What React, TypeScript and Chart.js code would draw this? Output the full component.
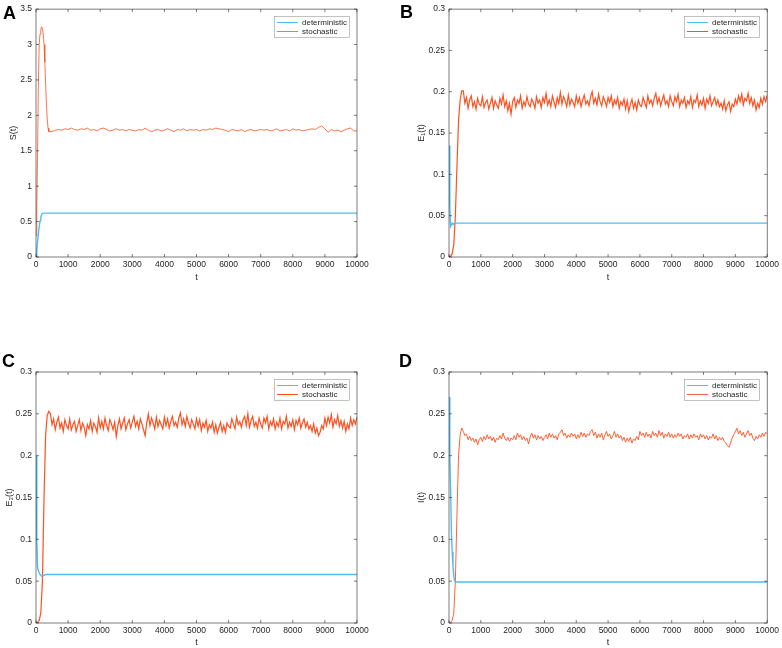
import { useEffect, useRef } from 'react'
import { Chart, registerables, Plugin } from 'chart.js'

Chart.register(...registerables)

// ---- data ----

// shared sampling grid for the B/C/D stochastic paths: 0..10000 every 50
const T_STEP = 50
const tGrid = Array.from({ length: 201 }, (_, i) => i * T_STEP)

// panel A stochastic path: fine start, then every 100
const tTransA = [0, 25, 50, 75, 100, 125, 150, 175, 200, 225, 250, 275, 300, 325, 350, 375, 400]
const tTailA = Array.from({ length: 96 }, (_, i) => 500 + i * 100)
const tA = [...tTransA, ...tTailA]

// deterministic solutions settle quickly, then stay flat
const tDet = [0, 25, 50, 75, 100, 125, 150, 175, 200, 250, 300, 10000]

const detA = [0, 0.1, 0.22, 0.33, 0.43, 0.51, 0.56, 0.6, 0.615, 0.62, 0.62, 0.62]
const detB = [0.135, 0.06, 0.037, 0.039, 0.041, 0.04, 0.04, 0.041, 0.041, 0.041, 0.041, 0.041]
const detC = [0.2, 0.1, 0.066, 0.062, 0.06, 0.058, 0.057, 0.056, 0.056, 0.057, 0.058, 0.058]
const detD = [0.27, 0.2, 0.16, 0.11, 0.085, 0.068, 0.057, 0.051, 0.049, 0.049, 0.049, 0.049]

const stoA = [
  0.3, 0.7, 1.5, 2.5, 3.0, 3.15, 3.22, 3.25, 3.22, 3.15, 3.0, 2.75, 2.45, 2.15, 1.95, 1.82, 1.77,
  1.77, 1.79, 1.8, 1.79, 1.81, 1.8,
  1.82, 1.8, 1.79, 1.81, 1.8, 1.82, 1.79, 1.8, 1.78, 1.81,
  1.82, 1.8, 1.78, 1.79, 1.81, 1.79, 1.8, 1.78, 1.8, 1.79,
  1.78, 1.8, 1.79, 1.82, 1.79, 1.77, 1.79, 1.8, 1.78, 1.79,
  1.81, 1.79, 1.77, 1.8, 1.79, 1.81, 1.78, 1.8, 1.79, 1.8,
  1.78, 1.8, 1.79, 1.81, 1.8, 1.82, 1.81, 1.8, 1.79, 1.77,
  1.8, 1.79, 1.78, 1.8, 1.77, 1.79, 1.8, 1.78, 1.79, 1.8,
  1.79, 1.8, 1.78, 1.79, 1.81, 1.78, 1.79, 1.8, 1.78, 1.81,
  1.79, 1.8, 1.78, 1.79, 1.8, 1.81, 1.8, 1.83, 1.85, 1.81,
  1.76, 1.8, 1.78, 1.79, 1.77, 1.79, 1.81, 1.82, 1.78, 1.78,
]

const stoB = [
  0, 0.001, 0.004, 0.015, 0.05, 0.11, 0.165, 0.19, 0.201,
  0.201, 0.186, 0.193, 0.18, 0.19, 0.195, 0.182, 0.188, 0.179, 0.192, 0.185, 0.183,
  0.194, 0.181, 0.187, 0.19, 0.179, 0.186, 0.193, 0.18, 0.189, 0.184,
  0.18, 0.192, 0.185, 0.196, 0.182, 0.189, 0.177, 0.186, 0.173, 0.188,
  0.193, 0.181, 0.19, 0.186, 0.195, 0.18, 0.188, 0.183, 0.194, 0.185,
  0.182, 0.191, 0.187, 0.18, 0.194, 0.186, 0.19, 0.181, 0.193, 0.187,
  0.198, 0.184, 0.19, 0.182, 0.195, 0.188, 0.181, 0.193, 0.186, 0.199,
  0.185, 0.194, 0.189, 0.182, 0.196, 0.184, 0.191, 0.187, 0.182, 0.195,
  0.186, 0.193, 0.182, 0.19, 0.196, 0.185, 0.189, 0.183, 0.194, 0.2,
  0.186, 0.192, 0.184, 0.197, 0.188, 0.183, 0.194, 0.189, 0.182, 0.193,
  0.187, 0.195, 0.182, 0.19, 0.185, 0.193, 0.18, 0.188, 0.184, 0.191,
  0.179, 0.189, 0.176, 0.185, 0.191, 0.18, 0.187, 0.178, 0.19, 0.184,
  0.182, 0.193, 0.187, 0.181, 0.195, 0.186, 0.19, 0.183, 0.192, 0.198,
  0.186, 0.193, 0.183, 0.19, 0.196, 0.185, 0.189, 0.182, 0.195, 0.188,
  0.183, 0.194, 0.188, 0.197, 0.182, 0.19, 0.186, 0.193, 0.181, 0.189,
  0.185, 0.194, 0.181, 0.19, 0.187, 0.196, 0.182, 0.189, 0.184, 0.192,
  0.18, 0.191, 0.186, 0.195, 0.183, 0.188, 0.193, 0.184, 0.19, 0.182,
  0.186, 0.179, 0.189, 0.177, 0.184, 0.188, 0.176, 0.185, 0.182, 0.191,
  0.185, 0.195, 0.188, 0.197, 0.184, 0.192, 0.189, 0.198, 0.186, 0.193,
  0.183, 0.19, 0.178, 0.186, 0.181, 0.192, 0.185, 0.194, 0.188, 0.196,
]

const stoC = [
  0, 0.001, 0.003, 0.012, 0.05, 0.15, 0.225, 0.248, 0.253,
  0.25, 0.237, 0.244, 0.231, 0.24, 0.246, 0.233, 0.239, 0.229, 0.243, 0.236, 0.232,
  0.244, 0.231, 0.237, 0.241, 0.229, 0.236, 0.243, 0.23, 0.239, 0.234,
  0.224, 0.237, 0.232, 0.242, 0.229, 0.239, 0.235, 0.228, 0.245, 0.233,
  0.241, 0.232, 0.245, 0.236, 0.23, 0.243, 0.238, 0.231, 0.24, 0.223,
  0.236, 0.244, 0.232, 0.239, 0.245, 0.231, 0.238, 0.243, 0.233, 0.24,
  0.247, 0.235, 0.241, 0.232, 0.244, 0.238, 0.231, 0.224, 0.239, 0.25,
  0.236, 0.245, 0.239, 0.232, 0.246, 0.235, 0.242, 0.237, 0.232, 0.246,
  0.236, 0.244, 0.233, 0.241, 0.247, 0.236, 0.24, 0.234, 0.245, 0.251,
  0.237, 0.244, 0.235, 0.247, 0.239, 0.233, 0.243, 0.238, 0.232, 0.244,
  0.235, 0.243, 0.23, 0.239, 0.234, 0.242, 0.229, 0.237, 0.233, 0.24,
  0.228, 0.237, 0.227, 0.234, 0.24, 0.229, 0.236, 0.228, 0.239, 0.235,
  0.233, 0.244, 0.238, 0.232, 0.246, 0.237, 0.241, 0.234, 0.243, 0.247,
  0.236, 0.25, 0.234, 0.242, 0.247, 0.235, 0.24, 0.233, 0.245, 0.238,
  0.233, 0.245, 0.239, 0.247, 0.232, 0.241, 0.236, 0.244, 0.232, 0.24,
  0.235, 0.245, 0.232, 0.241, 0.238, 0.247, 0.233, 0.24, 0.235, 0.243,
  0.231, 0.242, 0.237, 0.245, 0.233, 0.239, 0.244, 0.234, 0.24, 0.232,
  0.236, 0.229, 0.238, 0.227, 0.233, 0.224, 0.228, 0.236, 0.232, 0.245,
  0.236, 0.246, 0.239, 0.249, 0.234, 0.243, 0.238, 0.248, 0.235, 0.242,
  0.233, 0.241, 0.229, 0.238, 0.232, 0.245, 0.236, 0.243, 0.238, 0.246,
]

const stoD = [
  0, 0.0005, 0.003, 0.012, 0.05, 0.13, 0.2, 0.225, 0.233,
  0.229, 0.224, 0.226, 0.219, 0.223, 0.218, 0.221, 0.216, 0.22, 0.213, 0.219, 0.222,
  0.217, 0.223, 0.219, 0.225, 0.22, 0.223, 0.218, 0.222, 0.216, 0.221,
  0.219, 0.224, 0.22, 0.227, 0.221, 0.218, 0.222, 0.217, 0.221, 0.219,
  0.224, 0.219, 0.227, 0.222, 0.225, 0.219, 0.223, 0.218, 0.221, 0.214,
  0.222, 0.227, 0.221, 0.225, 0.219, 0.224, 0.22, 0.223, 0.218, 0.222,
  0.225, 0.22, 0.227, 0.222, 0.226, 0.221, 0.224, 0.219, 0.226, 0.228,
  0.231, 0.224, 0.227, 0.221, 0.225, 0.222, 0.227, 0.223, 0.226, 0.22,
  0.225, 0.221, 0.228, 0.223, 0.227, 0.222, 0.226, 0.224, 0.229, 0.231,
  0.224, 0.228, 0.221, 0.226, 0.222, 0.227, 0.219, 0.225, 0.229, 0.223,
  0.226, 0.22, 0.224, 0.229, 0.222, 0.226, 0.221, 0.224, 0.218, 0.222,
  0.216, 0.221, 0.217, 0.222, 0.215, 0.22, 0.218, 0.223, 0.219, 0.229,
  0.224, 0.227, 0.222, 0.228, 0.223, 0.226, 0.221, 0.229, 0.224, 0.227,
  0.222, 0.23, 0.224, 0.228, 0.221, 0.226, 0.223, 0.228, 0.222, 0.226,
  0.221, 0.225, 0.222, 0.227, 0.223, 0.226, 0.22, 0.224, 0.222, 0.226,
  0.22, 0.225, 0.221, 0.226, 0.222, 0.224, 0.219, 0.226, 0.222, 0.225,
  0.22, 0.224, 0.219, 0.223, 0.221, 0.226, 0.22, 0.224, 0.218, 0.222,
  0.219, 0.222, 0.217, 0.215, 0.212, 0.21, 0.215, 0.221, 0.225, 0.229,
  0.233, 0.226, 0.23, 0.224, 0.228, 0.222, 0.226, 0.23, 0.224, 0.227,
  0.221, 0.218, 0.223, 0.22, 0.225, 0.222, 0.227, 0.223, 0.228, 0.226,
]

const xTicks = [0, 1000, 2000, 3000, 4000, 5000, 6000, 7000, 8000, 9000, 10000]
const yTicksS = [0, 0.5, 1, 1.5, 2, 2.5, 3, 3.5]
const yTicksE = [0, 0.05, 0.1, 0.15, 0.2, 0.25, 0.3]

const seriesNames = ['deterministic', 'stochastic']

// ---- styling ----

const FONT = '"Liberation Sans", Arial, Helvetica, sans-serif'
const TEXT = '#262626'
const BLUE = '#4DBEEE'
const ORANGE = '#FF5020'
const PANEL_W = 391
const PANEL_H = 324

const pts = (xs: number[], ys: number[]) => xs.map((x, i) => ({ x, y: ys[i] }))

interface PanelSpec {
  letter: string
  left: number
  top: number
  yTitle: string
  yTicks: number[]
  tDet: number[]
  det: number[]
  tSto: number[]
  sto: number[]
  stoWidth: number
  pad: { left: number; right: number; top: number; bottom: number }
  yW: number
  xH: number
  letterX: number
  letterY: number
}

const PANELS: PanelSpec[] = [
  { letter: 'A', left: 0, top: 0, yTitle: 'S(t)', yTicks: yTicksS, tDet, det: detA, tSto: tA, sto: stoA, stoWidth: 0.8,
    pad: { left: 8, right: 34, top: 5, bottom: 41 }, yW: 28, xH: 26, letterX: 3, letterY: 19 },
  { letter: 'B', left: 391, top: 0, yTitle: 'E\u2081(t)', yTicks: yTicksE, tDet, det: detB, tSto: tGrid, sto: stoB, stoWidth: 1.2,
    pad: { left: 25, right: 13, top: 5, bottom: 41 }, yW: 33, xH: 26, letterX: 9, letterY: 18 },
  { letter: 'C', left: 0, top: 324, yTitle: 'E\u2082(t)', yTicks: yTicksE, tDet, det: detC, tSto: tGrid, sto: stoC, stoWidth: 1.2,
    pad: { left: 4, right: 34, top: 48, bottom: 0 }, yW: 32, xH: 25, letterX: 2, letterY: 43 },
  { letter: 'D', left: 391, top: 324, yTitle: 'I(t)', yTicks: yTicksE, tDet, det: detD, tSto: tGrid, sto: stoD, stoWidth: 0.9,
    pad: { left: 25, right: 12, top: 48, bottom: 0 }, yW: 33, xH: 25, letterX: 8, letterY: 43 },
]

// MATLAB-style box with inward ticks on all four sides
const matlabBox: Plugin<'line'> = {
  id: 'matlabBox',
  afterDraw(chart) {
    const { ctx, chartArea: a, scales } = chart
    const len = 3
    ctx.save()
    ctx.strokeStyle = TEXT
    ctx.lineWidth = 0.6
    ctx.beginPath()
    scales.x.ticks.forEach((t) => {
      const px = scales.x.getPixelForValue(t.value)
      ctx.moveTo(px, a.bottom)
      ctx.lineTo(px, a.bottom - len)
      ctx.moveTo(px, a.top)
      ctx.lineTo(px, a.top + len)
    })
    scales.y.ticks.forEach((t) => {
      const py = scales.y.getPixelForValue(t.value)
      ctx.moveTo(a.left, py)
      ctx.lineTo(a.left + len, py)
      ctx.moveTo(a.right, py)
      ctx.lineTo(a.right - len, py)
    })
    ctx.stroke()
    ctx.strokeRect(a.left, a.top, a.right - a.left, a.bottom - a.top)
    ctx.restore()
  },
}

const legendBox: Plugin<'line'> = {
  id: 'legendBox',
  afterDraw(chart) {
    const { ctx, chartArea: a } = chart
    const sets = chart.data.datasets
    ctx.save()
    ctx.font = `8px ${FONT}`
    const textW = Math.max(...sets.map((d) => ctx.measureText(String(d.label)).width))
    const w = 28 + textW + 2
    const h = 21
    const x0 = Math.round(a.right - 8 - w)
    const y0 = Math.round(a.top + 7)
    ctx.fillStyle = '#ffffff'
    ctx.fillRect(x0, y0, w, h)
    ctx.strokeStyle = '#9a9a9a'
    ctx.lineWidth = 0.6
    ctx.strokeRect(x0 + 0.5, y0 + 0.5, w, h)
    sets.forEach((d, i) => {
      const y = y0 + 6.5 + i * 9
      ctx.strokeStyle = d.borderColor as string
      ctx.lineWidth = Math.min(d.borderWidth as number, 1)
      ctx.beginPath()
      ctx.moveTo(x0 + 3, y)
      ctx.lineTo(x0 + 24, y)
      ctx.stroke()
      ctx.fillStyle = TEXT
      ctx.textBaseline = 'middle'
      ctx.fillText(String(d.label), x0 + 28, y)
    })
    ctx.restore()
  },
}

function Panel({ spec }: { spec: PanelSpec }) {
  const canvasRef = useRef<HTMLCanvasElement>(null)

  useEffect(() => {
    const ctx = canvasRef.current?.getContext('2d')
    if (!ctx) return

    const letter: Plugin<'line'> = {
      id: 'panelLetter',
      afterDraw(chart) {
        const c = chart.ctx
        c.save()
        c.font = `bold 18px ${FONT}`
        c.fillStyle = '#000'
        c.textBaseline = 'alphabetic'
        c.fillText(spec.letter, spec.letterX, spec.letterY)
        c.restore()
      },
    }

    const tickFont = { family: FONT, size: 8.5 }
    const titleFont = { family: FONT, size: 9 }
    const yMax = spec.yTicks[spec.yTicks.length - 1]

    const chart = new Chart(ctx, {
      type: 'line',
      data: {
        datasets: [
          {
            label: seriesNames[0],
            data: pts(spec.tDet, spec.det),
            borderColor: BLUE,
            borderWidth: 1.4,
            pointRadius: 0,
            tension: 0,
          },
          {
            label: seriesNames[1],
            data: pts(spec.tSto, spec.sto),
            borderColor: ORANGE,
            borderWidth: spec.stoWidth,
            pointRadius: 0,
            tension: 0,
          },
        ],
      },
      options: {
        responsive: false,
        animation: false,
        events: [],
        layout: { padding: spec.pad },
        plugins: {
          legend: { display: false },
          tooltip: { enabled: false },
        },
        scales: {
          x: {
            type: 'linear',
            min: 0,
            max: 10000,
            afterBuildTicks: (s) => {
              s.ticks = xTicks.map((value) => ({ value }))
            },
            afterFit: (s) => {
              s.height = spec.xH
            },
            grid: { display: false, drawTicks: false, tickLength: 0 },
            border: { display: false },
            ticks: {
              autoSkip: false,
              maxRotation: 0,
              padding: 3,
              color: TEXT,
              font: tickFont,
              callback: (v) => String(v),
            },
            title: { display: true, text: 't', color: TEXT, font: titleFont, padding: 0 },
          },
          y: {
            type: 'linear',
            min: 0,
            max: yMax,
            afterBuildTicks: (s) => {
              s.ticks = spec.yTicks.map((value) => ({ value }))
            },
            afterFit: (s) => {
              s.width = spec.yW
            },
            grid: { display: false, drawTicks: false, tickLength: 0 },
            border: { display: false },
            ticks: {
              autoSkip: false,
              padding: 4,
              color: TEXT,
              font: tickFont,
              callback: (v) => String(v),
            },
            title: { display: true, text: spec.yTitle, color: TEXT, font: titleFont, padding: 0 },
          },
        },
      },
      plugins: [matlabBox, legendBox, letter],
    })

    return () => chart.destroy()
  }, [spec])

  return (
    <canvas
      ref={canvasRef}
      width={PANEL_W}
      height={PANEL_H}
      style={{ position: 'absolute', left: spec.left, top: spec.top, width: PANEL_W, height: PANEL_H }}
    />
  )
}

export default function App() {
  return (
    <div style={{ position: 'absolute', left: 0, top: 0, width: 782, height: 648, background: '#fff' }}>
      {PANELS.map((p) => (
        <Panel key={p.letter} spec={p} />
      ))}
    </div>
  )
}
